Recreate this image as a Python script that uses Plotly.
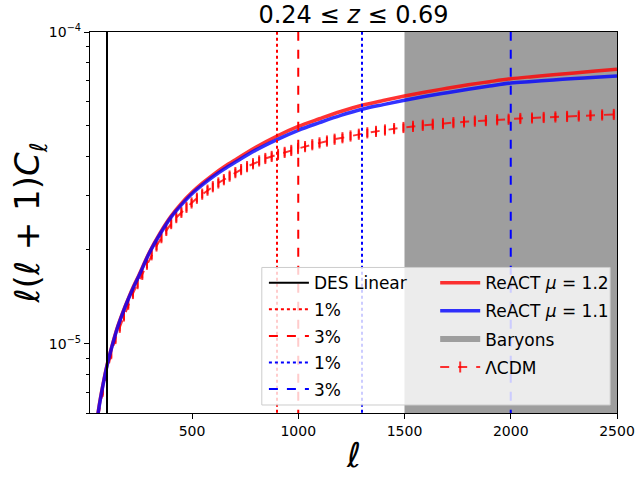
import math
import plotly.graph_objects as go

# ---------------- data ----------------
ell_theory = [40, 60, 80, 100, 127, 150, 175, 200, 225, 250, 300, 350, 400, 450, 500,
              550, 600, 650, 700, 800, 900, 1000, 1100, 1200, 1300, 1400, 1500, 1600,
              1700, 1800, 1900, 2000, 2100, 2200, 2300, 2400, 2500]
cl_mu12 = [0.48, 0.615, 0.735, 0.855, 1.005, 1.136, 1.267, 1.397, 1.53, 1.66, 1.97, 2.27,
           2.56, 2.82, 3.06, 3.28, 3.49, 3.69, 3.88, 4.27, 4.64, 4.98, 5.27, 5.56, 5.82,
           6.03, 6.23, 6.42, 6.60, 6.77, 6.93, 7.08, 7.19, 7.29, 7.39, 7.50, 7.60]
cl_mu11 = [0.48, 0.61, 0.73, 0.85, 1.00, 1.13, 1.26, 1.39, 1.52, 1.65, 1.96, 2.25,
           2.54, 2.79, 3.03, 3.24, 3.44, 3.63, 3.81, 4.18, 4.52, 4.84, 5.12, 5.40, 5.65,
           5.85, 6.04, 6.22, 6.39, 6.55, 6.71, 6.86, 6.94, 7.02, 7.09, 7.16, 7.22]

ell_lcdm = [40, 60, 80, 100, 120, 140, 160, 180, 200, 222, 244, 266, 288, 310, 333, 356,
            379, 402, 426, 450, 474, 498, 523, 548, 573, 598, 624, 650, 677, 704, 731,
            759, 787, 816, 845, 875, 905, 936, 967, 999, 1032, 1066, 1100, 1135, 1171,
            1208, 1246, 1285, 1325, 1366, 1408, 1451, 1495, 1540, 1586, 1633, 1681, 1730,
            1780, 1831, 1883, 1936, 1990, 2045, 2100, 2155, 2210, 2265, 2320, 2375, 2430,
            2485]
cl_lcdm = [0.45, 0.59, 0.705, 0.82, 0.93, 1.04, 1.13, 1.23, 1.34, 1.45, 1.56, 1.67, 1.80,
           1.93, 2.06, 2.19, 2.31, 2.43, 2.54, 2.64, 2.74, 2.83, 2.93, 3.02, 3.11, 3.19,
           3.28, 3.36, 3.45, 3.54, 3.62, 3.70, 3.78, 3.86, 3.93, 3.99, 4.05, 4.11, 4.17,
           4.23, 4.29, 4.35, 4.41, 4.47, 4.53, 4.58, 4.64, 4.70, 4.75, 4.80, 4.85, 4.90,
           4.94, 4.98, 5.02, 5.06, 5.09, 5.12, 5.15, 5.18, 5.20, 5.23, 5.25, 5.28, 5.30,
           5.32, 5.34, 5.36, 5.38, 5.40, 5.42, 5.44]
lcdm_err_percent = 3.0
cl_unit = 1e-5

des_linear_ell = 100
mu12_1pct_ell = 900
mu12_3pct_ell = 1000
mu11_1pct_ell = 1300
mu11_3pct_ell = 2000
baryon_ell_min = 1500
baryon_ell_max = 2500

x_range = [20, 2500]
y_min, y_max = 6e-6, 1e-4
y_ticks = [1e-5, 1e-4]
y_tick_text = ["10<sup>\u22125</sup>", "10<sup>\u22124</sup>"]
y_minor = [6e-6, 7e-6, 8e-6, 9e-6, 2e-5, 3e-5, 4e-5, 5e-5, 6e-5, 7e-5, 8e-5, 9e-5]
x_ticks = [500, 1000, 1500, 2000, 2500]
title_text = "0.24 \u2264 <i>z</i> \u2264 0.69"

# ---------------- figure ----------------
FONT = "DejaVu Sans"
fig = go.Figure()

vspan = [y_min / 10, y_max * 10]

# Baryons shaded region
fig.add_trace(go.Scatter(
    x=[baryon_ell_min, baryon_ell_max, baryon_ell_max, baryon_ell_min, baryon_ell_min],
    y=[vspan[0], vspan[0], vspan[1], vspan[1], vspan[0]],
    fill="toself", fillcolor="rgb(158,158,158)", mode="none",
    name="Baryons", legend="legend2", legendrank=3, legendgroup="bar", hoverinfo="skip"))

# LCDM with error bars
fig.add_trace(go.Scatter(
    x=ell_lcdm, y=[v * cl_unit for v in cl_lcdm],
    mode="lines+markers", name="\u039bCDM", legend="legend2", legendrank=4,
    legendgroup="lcdm",
    line=dict(color="rgba(255,0,0,0.8)", width=2, dash="dash"),
    marker=dict(symbol="line-ns-open", size=8, color="rgba(255,0,0,0.8)",
                line=dict(color="rgba(255,0,0,0.8)", width=2)),
    error_y=dict(type="percent", value=lcdm_err_percent, color="rgba(255,0,0,0.8)",
                 thickness=2, width=0)))

# ReACT curves
fig.add_trace(go.Scatter(
    x=ell_theory, y=[v * cl_unit for v in cl_mu12], mode="lines",
    name="ReACT <i>\u03bc</i> = 1.2", legend="legend2", legendrank=1, legendgroup="m12",
    line=dict(color="rgba(255,0,0,0.8)", width=3.5, shape="spline")))
fig.add_trace(go.Scatter(
    x=ell_theory, y=[v * cl_unit for v in cl_mu11], mode="lines",
    name="ReACT <i>\u03bc</i> = 1.1", legend="legend2", legendrank=2, legendgroup="m11",
    line=dict(color="rgba(0,0,255,0.8)", width=3.5, shape="spline")))

# vertical lines
vlines = [
    (des_linear_ell, "black", "solid", "DES Linear"),
    (mu12_1pct_ell, "red", "dot", "1%"),
    (mu12_3pct_ell, "red", "dash", "3%"),
    (mu11_1pct_ell, "blue", "dot", "1%"),
    (mu11_3pct_ell, "blue", "dash", "3%"),
]
for i, (xv, col, dash, nm) in enumerate(vlines):
    fig.add_trace(go.Scatter(
        x=[xv, xv], y=vspan, mode="lines", name=nm, legend="legend",
        legendrank=i + 1, legendgroup="v%d" % i,
        line=dict(color=col, width=2, dash=dash), hoverinfo="skip"))

# legend background box
fig.add_shape(type="rect", xref="paper", yref="paper",
              x0=0.326, x1=0.987, y0=0.021, y1=0.382,
              fillcolor="rgba(255,255,255,0.8)", line=dict(color="rgb(204,204,204)", width=1),
              layer="above")

axis_common = dict(showline=True, linecolor="black", linewidth=1.2, mirror=True,
                   ticks="outside", ticklen=5, tickcolor="black", tickwidth=1.2,
                   showgrid=False, zeroline=False, automargin=False,
                   tickfont=dict(family=FONT, size=14, color="black"))

fig.update_layout(
    width=640, height=480,
    margin=dict(l=90, r=23, t=32, b=67, autoexpand=False),
    paper_bgcolor="white", plot_bgcolor="white",
    font=dict(family=FONT, color="black"),
    title=dict(text=title_text, x=0.5, xref="paper", xanchor="center",
               y=1 - 15 / 480, yref="container", yanchor="middle", automargin=False,
               font=dict(family=FONT, size=24, color="black")),
    xaxis=dict(range=x_range, tickvals=x_ticks, **axis_common),
    yaxis=dict(type="log", range=[math.log10(y_min), math.log10(y_max)],
               tickvals=y_ticks, ticktext=y_tick_text,
               minor=dict(tickvals=y_minor, ticks="outside", ticklen=3, tickcolor="black"),
               **axis_common),
    legend=dict(x=0.33, y=0.388, xanchor="left", yanchor="top", itemwidth=40,
                bgcolor="rgba(0,0,0,0)", borderwidth=0, tracegroupgap=1.5,
                font=dict(family=FONT, size=17, color="black"), traceorder="grouped"),
    legend2=dict(x=0.655, y=0.388, xanchor="left", yanchor="top", itemwidth=40,
                 bgcolor="rgba(0,0,0,0)", borderwidth=0, tracegroupgap=3,
                 font=dict(family=FONT, size=17, color="black"), traceorder="grouped"),
    annotations=[
        dict(text="\u2113(\u2113 + 1)<i>C</i><sub>\u2113</sub>", xref="paper", yref="paper",
             x=-0.114, y=0.5, xanchor="center", yanchor="middle", textangle=-90,
             showarrow=False, font=dict(family=FONT, size=34, color="black")),
        dict(text="\u2113", xref="paper", yref="paper", x=0.5, y=-0.11,
             xanchor="center", yanchor="middle", showarrow=False,
             font=dict(family=FONT, size=34, color="black")),
    ],
)

fig.write_html("out.html", config={"displayModeBar": False},
               post_script="document.body.style.margin='0';")
